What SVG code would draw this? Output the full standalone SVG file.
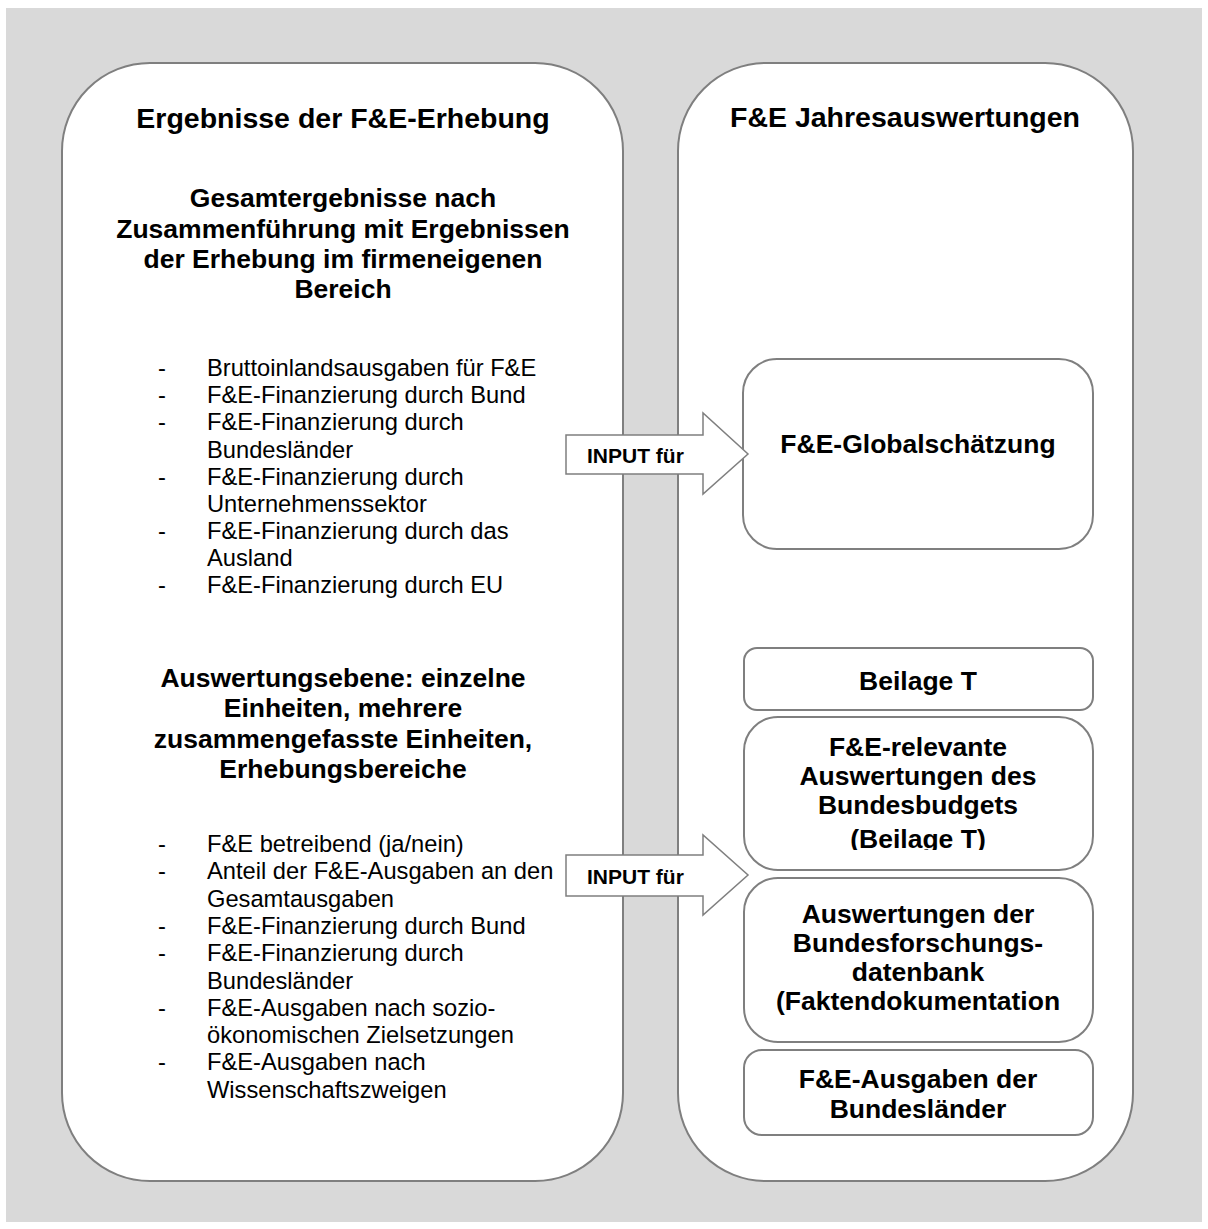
<svg xmlns="http://www.w3.org/2000/svg" width="1208" height="1229" viewBox="0 0 1208 1229">
<style>
.bg{fill:#d9d9d9}
.panel{fill:#fff;stroke:#7f7f7f;stroke-width:2}
.box{fill:#fff;stroke:#7f7f7f;stroke-width:2}
.title{font-family:"Liberation Sans",Arial,sans-serif;font-weight:bold;font-size:28.5px;fill:#000;text-anchor:middle}
.head{font-family:"Liberation Sans",Arial,sans-serif;font-weight:bold;font-size:26.5px;fill:#000;text-anchor:middle}
.li{font-family:"Liberation Sans",Arial,sans-serif;font-size:23.7px;fill:#000}
.arrow{fill:#fff;stroke:#7f7f7f;stroke-width:1.5;stroke-linejoin:miter}
.alabel{font-family:"Liberation Sans",Arial,sans-serif;font-weight:bold;font-size:21px;fill:#000}
</style>
<defs>
<clipPath id="clipRel"><rect x="744" y="717" width="349" height="133"/></clipPath>
</defs>
<rect class="bg" x="6" y="8" width="1196" height="1214"/>

<g id="left-panel">
<rect class="panel" x="62" y="63" width="561" height="1118" rx="88" ry="88"/>
<text class="title" x="343" y="128">Ergebnisse der F&amp;E-Erhebung</text>
<text class="head" x="343"><tspan x="343" y="207">Gesamtergebnisse nach</tspan><tspan x="343" y="238">Zusammenführung mit Ergebnissen</tspan><tspan x="343" y="268">der Erhebung im firmeneigenen</tspan><tspan x="343" y="298">Bereich</tspan></text>
<g class="li">
<text x="158" y="376">-</text><text x="207" y="376">Bruttoinlandsausgaben für F&amp;E</text>
<text x="158" y="403">-</text><text x="207" y="403">F&amp;E-Finanzierung durch Bund</text>
<text x="158" y="430">-</text><text x="207" y="430">F&amp;E-Finanzierung durch</text>
<text x="207" y="458">Bundesländer</text>
<text x="158" y="485">-</text><text x="207" y="485">F&amp;E-Finanzierung durch</text>
<text x="207" y="512">Unternehmenssektor</text>
<text x="158" y="539">-</text><text x="207" y="539">F&amp;E-Finanzierung durch das</text>
<text x="207" y="566">Ausland</text>
<text x="158" y="593">-</text><text x="207" y="593">F&amp;E-Finanzierung durch EU</text>
</g>
<text class="head"><tspan x="343" y="687">Auswertungsebene: einzelne</tspan><tspan x="343" y="717">Einheiten, mehrere</tspan><tspan x="343" y="748">zusammengefasste Einheiten,</tspan><tspan x="343" y="778">Erhebungsbereiche</tspan></text>
<g class="li">
<text x="158" y="852">-</text><text x="207" y="852">F&amp;E betreibend (ja/nein)</text>
<text x="158" y="879">-</text><text x="207" y="879">Anteil der F&amp;E-Ausgaben an den</text>
<text x="207" y="907">Gesamtausgaben</text>
<text x="158" y="934">-</text><text x="207" y="934">F&amp;E-Finanzierung durch Bund</text>
<text x="158" y="961">-</text><text x="207" y="961">F&amp;E-Finanzierung durch</text>
<text x="207" y="989">Bundesländer</text>
<text x="158" y="1016">-</text><text x="207" y="1016">F&amp;E-Ausgaben nach sozio-</text>
<text x="207" y="1043">ökonomischen Zielsetzungen</text>
<text x="158" y="1070">-</text><text x="207" y="1070">F&amp;E-Ausgaben nach</text>
<text x="207" y="1098">Wissenschaftszweigen</text>
</g>
</g>

<g id="right-panel">
<rect class="panel" x="678" y="63" width="455" height="1118" rx="88" ry="88"/>
<text class="title" x="905" y="127">F&amp;E Jahresauswertungen</text>
</g>

<g id="node-globalschaetzung">
<rect class="box" x="743" y="359" width="350" height="190" rx="34" ry="34"/>
<text class="head" x="918" y="453">F&amp;E-Globalschätzung</text>
</g>

<g id="node-beilage-t">
<rect class="box" x="744" y="648" width="349" height="62" rx="13" ry="13"/>
<text class="head" x="918" y="690">Beilage T</text>
</g>

<g id="node-bundesbudget">
<rect class="box" x="744" y="717" width="349" height="153" rx="34" ry="34"/>
<text class="head" clip-path="url(#clipRel)"><tspan x="918" y="756">F&amp;E-relevante</tspan><tspan x="918" y="785">Auswertungen des</tspan><tspan x="918" y="814">Bundesbudgets</tspan><tspan x="918" y="848">(Beilage T)</tspan></text>
</g>

<g id="node-forschungsdatenbank">
<rect class="box" x="744" y="878" width="349" height="164" rx="34" ry="34"/>
<text class="head"><tspan x="918" y="923">Auswertungen der</tspan><tspan x="918" y="952">Bundesforschungs-</tspan><tspan x="918" y="981">datenbank</tspan><tspan x="918" y="1010">(Faktendokumentation</tspan></text>
</g>

<g id="node-bundeslaender">
<rect class="box" x="744" y="1050" width="349" height="85" rx="18" ry="18"/>
<text class="head"><tspan x="918" y="1088">F&amp;E-Ausgaben der</tspan><tspan x="918" y="1118">Bundesländer</tspan></text>
</g>

<g id="connectors">
<g id="arrow-1">
<polygon class="arrow" points="566,435 703,435 703,413 748,454 703,494 703,474 566,474"/>
<text class="alabel" x="587" y="463">INPUT für</text>
</g>
<g id="arrow-2">
<polygon class="arrow" points="566,855 703,855 703,835 748,875 703,915 703,896 566,896"/>
<text class="alabel" x="587" y="884">INPUT für</text>
</g>
</g>
</svg>
